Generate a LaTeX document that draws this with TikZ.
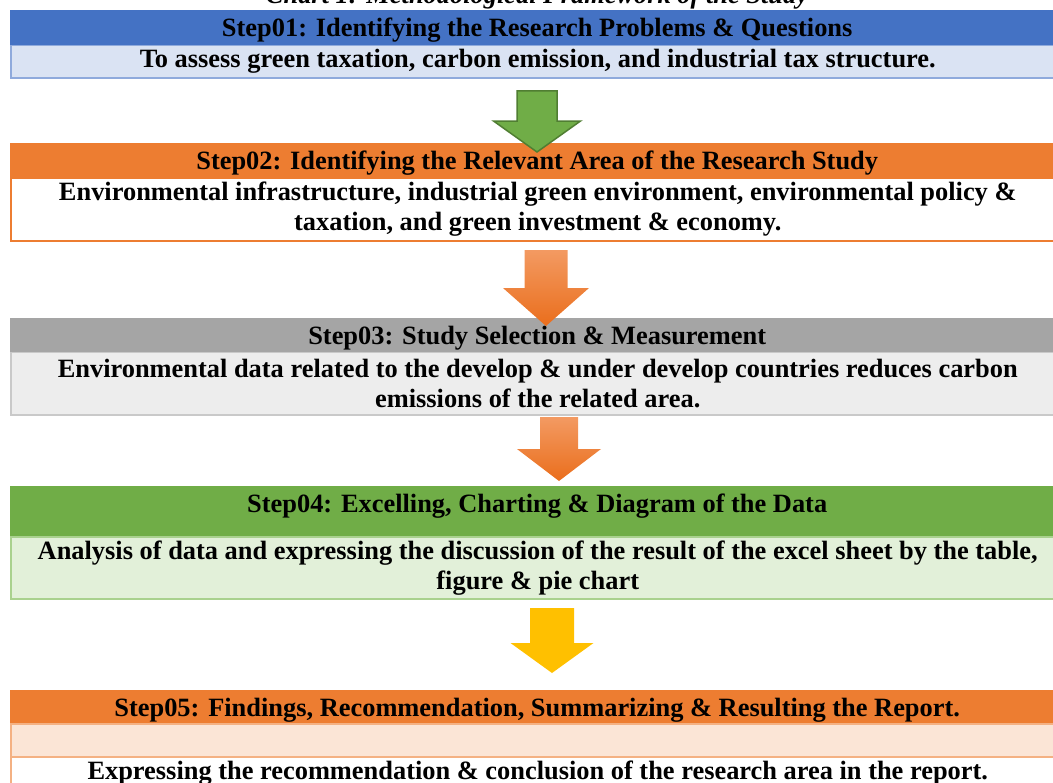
\documentclass[tikz,border=0pt]{standalone}
\usepackage{fontspec}
\setmainfont{Liberation Serif}
\usetikzlibrary{positioning,calc}
\definecolor{hdblue}{HTML}{4472C4}
\definecolor{bdblue}{HTML}{DAE3F3}
\definecolor{lnblue}{HTML}{8FAADC}
\definecolor{hdorange}{HTML}{ED7D31}
\definecolor{hdgray}{HTML}{A5A5A5}
\definecolor{bdgray}{HTML}{EDEDED}
\definecolor{lngray}{HTML}{C9C9C9}
\definecolor{hdgreen}{HTML}{70AD47}
\definecolor{bdgreen}{HTML}{E2F0D9}
\definecolor{lngreen}{HTML}{A9D18E}
\definecolor{dkgreen}{HTML}{507E32}
\definecolor{bdpeach}{HTML}{FBE5D6}
\definecolor{lnpeach}{HTML}{F4B183}
\definecolor{artop}{HTML}{F39A62}
\definecolor{arbot}{HTML}{EA6E1C}
\definecolor{aryellow}{HTML}{FFC000}
\tikzstyle{header}=[rectangle,anchor=north west,minimum width=1054bp,inner sep=0pt,text height=26bp,font=\fontsize{26.5}{30}\selectfont\bfseries]
\tikzstyle{body}=[rectangle,anchor=north west,minimum width=1054bp,inner sep=0pt,align=center,line width=1.5bp,font=\fontsize{26.5}{30}\selectfont\bfseries]
\newcommand{\blockarrow}[7]{%
  \path[#7] ({#1-#5},#2) -- ({#1+#5},#2) -- ({#1+#5},#3) -- ({#1+#6},#3)
    -- (#1,#4) -- ({#1-#6},#3) -- ({#1-#5},#3) -- cycle;}

\begin{document}
\begin{tikzpicture}[x=1bp,y=-1bp]
  \useasboundingbox (0,0) rectangle (1053,783);
  \node[anchor=base,font=\fontsize{26.5}{30}\selectfont\bfseries\itshape] (title) at (537,4)
    {Chart 1: Methodological Framework of the Study};

  % bodies first, headers on top of them
  \node[body,fill=bdblue,draw=lnblue,minimum height=32bp] (b1) at (10,45)
    {To assess green taxation, carbon emission, and industrial tax structure.};
  \node[body,fill=white,draw=hdorange,minimum height=63bp] (b2) at (10,177)
    {Environmental infrastructure, industrial green environment, environmental policy \&\\
     taxation, and green investment \& economy.};
  \node[body,fill=bdgray,draw=lngray,minimum height=63bp] (b3) at (10,351)
    {Environmental data related to the develop \& under develop countries reduces carbon\\
     emissions of the related area.};
  \node[body,fill=bdgreen,draw=lngreen,minimum height=62bp] (b4) at (10,536)
    {Analysis of data and expressing the discussion of the result of the excel sheet by the table,\\
     figure \& pie chart};
  \node[body,fill=bdpeach,draw=lnpeach,minimum height=33bp] (b5) at (10,723) {};
  \node[body,fill=white,draw=lnpeach,minimum height=32bp] (b6) at (10,756)
    {Expressing the recommendation \& conclusion of the research area in the report.};

  \foreach \pos/\name/\col/\hdep/\txt in {{(10,10)/h1/hdblue/9/{Step01: Identifying the Research Problems \& Questions}},
                                   {(10,143)/h2/hdorange/8/{Step02: Identifying the Relevant Area of the Research Study}},
                                   {(10,318)/h3/hdgray/8/{Step03: Study Selection \& Measurement}},
                                   {(10,486)/h4/hdgreen/24/{Step04: Excelling, Charting \& Diagram of the Data}},
                                   {(10,690)/h5/hdorange/7/{Step05: Findings, Recommendation, Summarizing \& Resulting the Report.}}}
    \node[header,fill=\col,text depth=\hdep bp] (\name) at \pos {\txt};

  % block arrows between the steps
  \blockarrow{537}{91}{121}{152}{20}{43.5}{fill=hdgreen,draw=dkgreen,line width=1.5bp,line join=miter}
  \blockarrow{546}{250}{288}{326}{21.5}{43}{top color=artop,bottom color=arbot}
  \blockarrow{559}{417}{449}{481}{19}{42}{top color=artop,bottom color=arbot}
  \blockarrow{552}{608}{643}{673}{22}{41.5}{fill=aryellow}
\end{tikzpicture}
\end{document}
